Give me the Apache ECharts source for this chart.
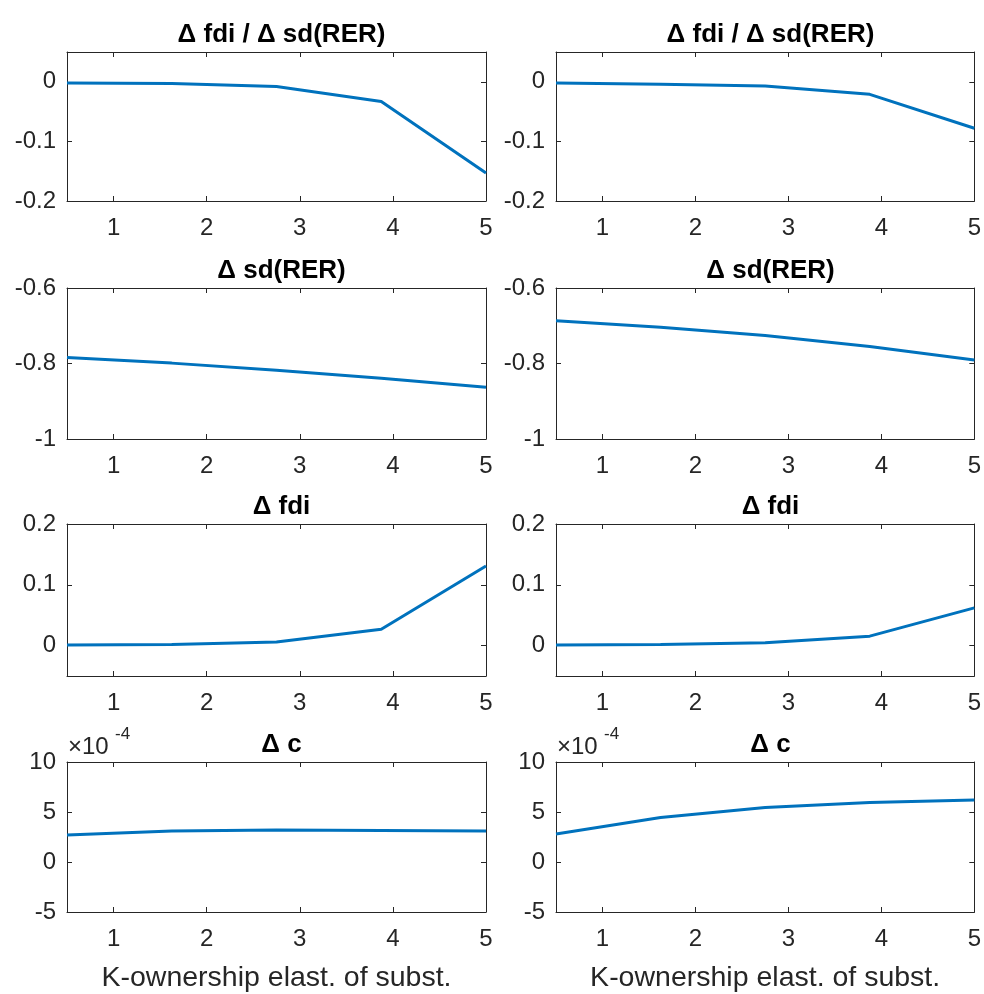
<!DOCTYPE html>
<html>
<head>
<meta charset="utf-8">
<script src="https://cdn.jsdelivr.net/npm/echarts@6/dist/echarts.min.js"></script>
<style>
  html, body { margin: 0; padding: 0; background: #fff; }
  #chart { width: 984px; height: 994px; }
</style>
</head>
<body>
<div id="chart"></div>
<script>
// x values (K-ownership elasticity of substitution)
const xValues = [0.5, 1.625, 2.75, 3.875, 5];
const xTicks = [1, 2, 3, 4, 5];

// left column
const ratioLeft = [-0.002, -0.003, -0.008, -0.033, -0.153];
const sdLeft = [-0.784, -0.799, -0.818, -0.839, -0.863];
const fdiLeft = [0.001, 0.002, 0.006, 0.027, 0.131];
const cLeft = [2.7e-4, 3.1e-4, 3.2e-4, 3.15e-4, 3.1e-4];

// right column
const ratioRight = [-0.002, -0.004, -0.007, -0.021, -0.078];
const sdRight = [-0.687, -0.704, -0.726, -0.755, -0.791];
const fdiRight = [0.001, 0.002, 0.0045, 0.0155, 0.062];
const cRight = [2.8e-4, 4.45e-4, 5.45e-4, 5.95e-4, 6.2e-4];

// titles and y ticks per row
const rowTitles = ['Δ fdi / Δ sd(RER)', 'Δ sd(RER)', 'Δ fdi', 'Δ c'];
const ratioTicks = [-0.2, -0.1, 0];
const sdTicks = [-1, -0.8, -0.6];
const fdiTicks = [0, 0.1, 0.2];
const cTicks = [-5e-4, 0, 5e-4, 10e-4];
const xName = 'K-ownership elast. of subst.';

const rows = [
    { data: [ratioLeft, ratioRight], min: -0.2, max: 0.05, ticks: ratioTicks },
    { data: [sdLeft, sdRight], min: -1, max: -0.6, ticks: sdTicks },
    { data: [fdiLeft, fdiRight], min: -0.05, max: 0.2, ticks: fdiTicks },
    { data: [cLeft, cRight], min: -5e-4, max: 10e-4, ticks: cTicks, scaled: true }
];

const colLeft = [67, 556];
const rowTop = [52, 288, 524, 762];
const rowHeight = [149, 151, 152, 151];
const plotWidth = 419;

const font = '"Liberation Sans", Arial, Helvetica, sans-serif';
const ink = '#262626';

const chart = echarts.init(document.getElementById('chart'), null, { renderer: 'canvas' });

const grid = [], xAxis = [], yAxis = [], series = [], title = [], graphic = [];

rows.forEach((row, r) => {
    [0, 1].forEach(c => {
        const g = grid.length;
        grid.push({ left: colLeft[c], top: rowTop[r], width: plotWidth, height: rowHeight[r], containLabel: false });

        const fmtY = row.scaled ? v => String(Math.round(v * 1e4)) : v => String(+v.toFixed(2));
        const axisLine = { show: true, onZero: false, lineStyle: { color: ink, width: 1 } };
        const tick = { show: true, inside: true, length: 5, lineStyle: { color: ink, width: 1 } };

        // bottom / left axes with labels
        xAxis.push({
            type: 'value', gridIndex: g, min: 0.5, max: 5, position: 'bottom',
            axisLine: axisLine,
            axisTick: Object.assign({ customValues: xTicks }, tick),
            axisLabel: { customValues: xTicks, color: ink, fontSize: 24, fontFamily: font, margin: 15 },
            splitLine: { show: false },
            name: r === 3 ? xName : '', nameLocation: 'middle', nameGap: 52,
            nameTextStyle: { color: ink, fontSize: 28.5, fontFamily: font }
        });
        yAxis.push({
            type: 'value', gridIndex: g, min: row.min, max: row.max, position: 'left',
            axisLine: axisLine,
            axisTick: Object.assign({ customValues: row.ticks }, tick),
            axisLabel: { customValues: row.ticks, formatter: fmtY, color: ink, fontSize: 24, fontFamily: font, margin: 11 },
            splitLine: { show: false }
        });
        // mirrored top / right axes (box)
        xAxis.push({
            type: 'value', gridIndex: g, min: 0.5, max: 5, position: 'top',
            axisLine: axisLine,
            axisTick: Object.assign({ customValues: xTicks }, tick),
            axisLabel: { show: false },
            splitLine: { show: false }
        });
        yAxis.push({
            type: 'value', gridIndex: g, min: row.min, max: row.max, position: 'right',
            axisLine: axisLine,
            axisTick: Object.assign({ customValues: row.ticks }, tick),
            axisLabel: { show: false },
            splitLine: { show: false }
        });

        series.push({
            type: 'line',
            xAxisIndex: g * 2, yAxisIndex: g * 2,
            data: xValues.map((x, i) => [x, row.data[c][i]]),
            showSymbol: false,
            lineStyle: { color: '#0072BD', width: 3 },
            animation: false
        });

        title.push({
            text: rowTitles[r],
            left: colLeft[c] + plotWidth / 2,
            top: rowTop[r] - 35,
            textAlign: 'center',
            textStyle: { color: '#000', fontSize: 26, fontWeight: 'bold', fontFamily: font }
        });

        if (row.scaled) {
            graphic.push({
                type: 'text', left: colLeft[c] + 1, top: rowTop[r] - 27,
                style: { text: '×10', fill: ink, fontSize: 24, fontFamily: font }
            });
            graphic.push({
                type: 'text', left: colLeft[c] + 48, top: rowTop[r] - 36,
                style: { text: '-4', fill: ink, fontSize: 17, fontFamily: font }
            });
        }
    });
});

chart.setOption({
    animation: false,
    backgroundColor: '#fff',
    title: title,
    grid: grid,
    xAxis: xAxis,
    yAxis: yAxis,
    series: series,
    graphic: graphic
});
</script>
</body>
</html>
